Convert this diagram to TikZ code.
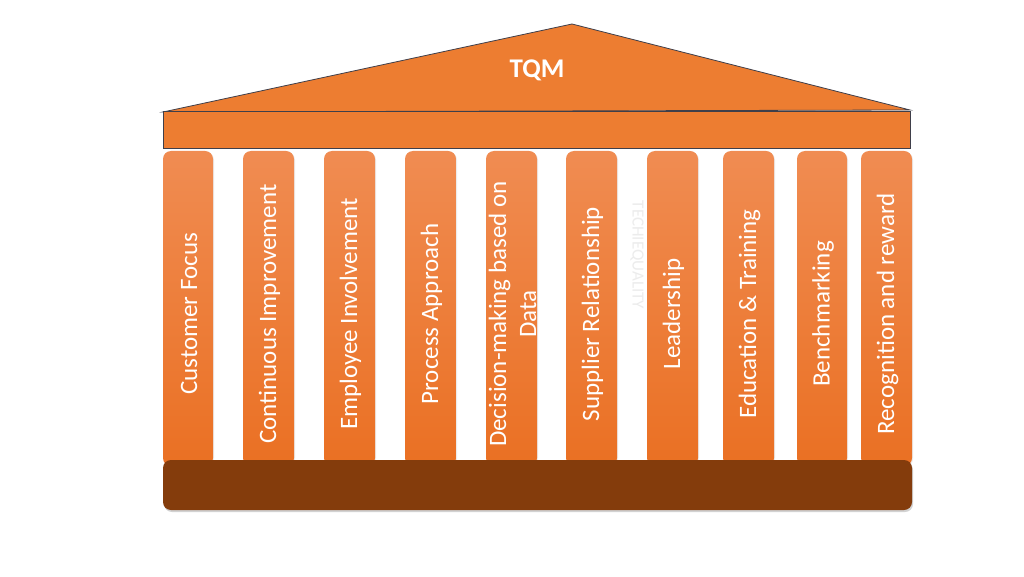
\documentclass[tikz,border=0pt]{standalone}
\usepackage{fontspec}
\setmainfont{Carlito}
\usetikzlibrary{shadows}
\definecolor{roofor}{HTML}{ED7D31}
\definecolor{pilltop}{HTML}{F08C52}
\definecolor{pillbot}{HTML}{EA7023}
\definecolor{basebr}{HTML}{843C0C}
\definecolor{edgegray}{HTML}{3F3F4A}
\definecolor{wmark}{HTML}{ECECEC}
\tikzset{
  roofpart/.style={fill=roofor, draw=edgegray, line width=0.8pt, line join=miter},
  pillar/.style={rounded corners=8pt, top color=pilltop, bottom color=pillbot, shading angle=0,
    drop shadow={opacity=0.15, shadow xshift=1pt, shadow yshift=-1pt}},
  pillartext/.style={rotate=90, text=white, font=\fontsize{25}{30}\selectfont, align=center, inner sep=0pt},
  basebox/.style={fill=basebr, rounded corners=8pt,
    drop shadow={opacity=0.35, shadow xshift=1pt, shadow yshift=-2pt}},
}
\begin{document}
\begin{tikzpicture}[x=1pt,y=1pt]
\useasboundingbox (0,0) rectangle (1024,576);
\fill[white] (0,0) rectangle (1024,576);
% roof
\draw[roofpart] (163,464) -- (572,552) -- (910,466) -- cycle;
\draw[roofpart] (163,428) rectangle (910,465);
\node[text=white, font=\bfseries\fontsize{27}{30}\selectfont] (tqm) at (537,506) {TQM};
% pillars
\foreach \a/\b/\n in {163/213/p1,243/294/p2,324/375/p3,405/456/p4,486/537/p5,566/617/p6,647/698/p7,723/774/p8,797/847/p9,861/912/p10}{
  \path[pillar] (\a,110) rectangle (\b,425);
  \coordinate (\n) at ({(\a+\b)/2},262);
}
% base
\path[basebox] (163,66) rectangle (912,116);
% pillar labels
\node[pillartext] (t1) at ([xshift=1pt]p1) {Customer Focus};
\node[pillartext] (t2) at ([xshift=1pt]p2) {Continuous Improvement};
\node[pillartext] (t3) at ([xshift=1pt]p3) {Employee Involvement};
\node[pillartext] (t4) at ([xshift=1pt]p4) {Process Approach};
\node[pillartext] (t5) at ([xshift=1pt]p5) {Decision-making based on\\Data};
\node[pillartext] (t6) at ([xshift=1pt]p6) {Supplier Relationship};
\node[pillartext] (t7) at ([xshift=1pt]p7) {Leadership};
\node[pillartext] (t8) at ([xshift=1pt]p8) {Education \& Training};
\node[pillartext] (t9) at ([xshift=1pt]p9) {Benchmarking};
\node[pillartext] (t10) at ([xshift=1pt]p10) {Recognition and reward};
% watermark
\node[rotate=-90, text=wmark, font=\fontsize{17}{17}\selectfont] (wm) at (637,321) {TECHIEQUALITY};
\end{tikzpicture}
\end{document}
